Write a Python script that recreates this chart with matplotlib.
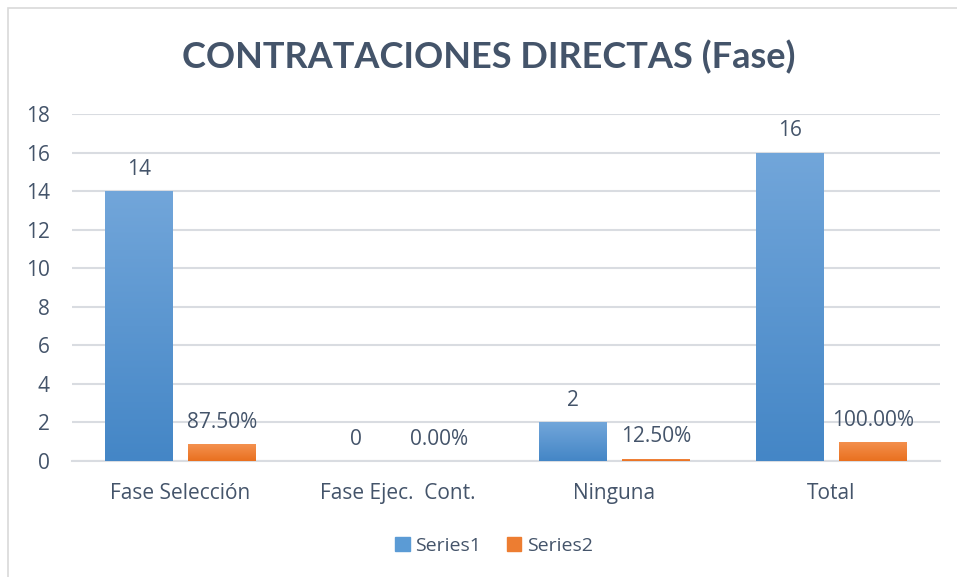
import matplotlib
matplotlib.use("Agg")
import matplotlib.pyplot as plt
import numpy as np
from matplotlib.patches import Rectangle
from matplotlib.colors import LinearSegmentedColormap

categories = ["Fase Selección", "Fase Ejec.  Cont.", "Ninguna", "Total"]
series1 = [14, 0, 2, 16]
series2 = [0.875, 0.0, 0.125, 1.0]
series_names = ["Series1", "Series2"]
title = "CONTRATACIONES DIRECTAS (Fase)"
yticks = [0, 2, 4, 6, 8, 10, 12, 14, 16, 18]

TXT = "#44546A"
GRID = "#D9DCE1"
FONT = "Open Sans"

W, H = 957, 577
fig = plt.figure(figsize=(W / 100, H / 100), dpi=100)
fig.patch.set_facecolor("white")
ax = fig.add_axes([72 / W, 1 - 461 / H, 868 / W, 347 / H])

x = np.arange(len(categories))
bw = 0.313
off = 0.191
b1 = ax.bar(x - off, series1, bw, color="#5B9BD5", zorder=3)
b2 = ax.bar(x + off, series2, bw, color="#ED7D31", zorder=3)

cm_blue = LinearSegmentedColormap.from_list("b", ["#4486C6", "#72A6DA"])
cm_or = LinearSegmentedColormap.from_list("o", ["#E9701F", "#F4914F"])
grad = np.linspace(0, 1, 256).reshape(-1, 1)
for bars, cm in ((b1, cm_blue), (b2, cm_or)):
    for r in bars:
        h = r.get_height()
        if h <= 0:
            continue
        x0 = r.get_x()
        im = ax.imshow(grad, cmap=cm, origin="lower", aspect="auto",
                       extent=[x0, x0 + r.get_width(), 0, h], zorder=4)
        im.set_clip_path(r)

for r, v in zip(b1, series1):
    ax.annotate(f"{v}", (r.get_x() + r.get_width() / 2, v), xytext=(0, 8),
                textcoords="offset points", ha="center", va="bottom",
                fontsize=15, color=TXT, family=FONT, zorder=5)
for r, v in zip(b2, series2):
    ax.annotate(f"{v*100:.2f}%", (r.get_x() + r.get_width() / 2, v), xytext=(0, 8),
                textcoords="offset points", ha="center", va="bottom",
                fontsize=15, color=TXT, family=FONT, zorder=5)

ax.set_xlim(-0.5, len(categories) - 0.5)
ax.set_ylim(0, 18)
ax.set_yticks(yticks)
ax.set_xticks(x)
ax.set_xticklabels(categories)
ax.yaxis.grid(True, color=GRID, linewidth=1.5, zorder=0)
ax.set_axisbelow(True)
for s in ["top", "right", "left"]:
    ax.spines[s].set_visible(False)
ax.spines["bottom"].set_color(GRID)
ax.spines["bottom"].set_linewidth(1.5)
ax.tick_params(axis="both", length=0, colors=TXT, labelsize=15)
ax.tick_params(axis="y", pad=16)
ax.tick_params(axis="x", pad=16)
for lab in ax.get_xticklabels() + ax.get_yticklabels():
    lab.set_family(FONT)

fig.text(489 / W, 1 - 57 / H, title, ha="center", va="center",
         fontsize=26, fontweight="bold", color=TXT, family="Lato")

h1 = Rectangle((0, 0), 1, 1, color="#5B9BD5")
h2 = Rectangle((0, 0), 1, 1, color="#ED7D31")
leg = fig.legend([h1, h2], series_names, loc="center", bbox_to_anchor=(494 / W, 1 - 546 / H),
                 ncol=2, frameon=False, handlelength=0.75, handleheight=0.75,
                 handletextpad=0.3, columnspacing=1.3,
                 prop={"family": FONT, "size": 14})
for t in leg.get_texts():
    t.set_color(TXT)

fig.add_artist(Rectangle((8 / W, -0.1), 1.2, 1 - 8 / H + 0.1, transform=fig.transFigure,
                         fill=False, edgecolor="#D9D9D9", linewidth=1.2))

fig.savefig("out.png", dpi=100)
